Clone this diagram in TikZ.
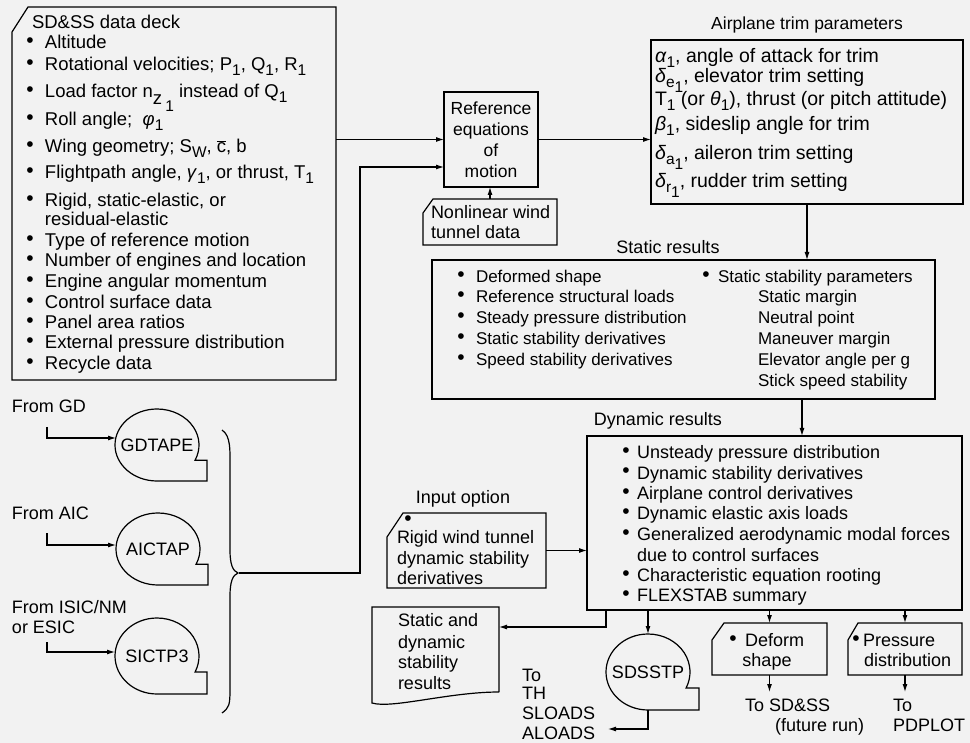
\documentclass[tikz,border=0pt]{standalone}
\usepackage{fontspec}
\setmainfont{Liberation Sans}
\usetikzlibrary{calc,arrows.meta}
\newcommand{\fs}{\fontsize{18}{20}\selectfont}
\newcommand{\fsD}{\fontsize{18.5}{20}\selectfont}
\newcommand{\fsT}{\fontsize{19.5}{21}\selectfont}
\newcommand{\fsS}{\fontsize{17}{20}\selectfont}
\newcommand{\sbn}[1]{\raisebox{-5pt}{\fontsize{15.5}{15.5}\selectfont #1}}
\newcommand{\sbb}[1]{\raisebox{-10pt}{\fontsize{15.5}{15.5}\selectfont #1}}
\newcommand{\gk}[1]{\textit{#1}}
\newcommand{\bitem}[5]{\node[bul] (#1b) at (#2,#4) {•}; \node[tl] (#1) at (#3,#4) {#5};}
\tikzset{
  every node/.style={inner sep=0pt, outer sep=0pt, font=\fs, text=black},
  tl/.style={anchor=base west},
  tc/.style={anchor=base},
  bul/.style={anchor=base, font=\fontsize{21}{21}\selectfont, yshift=1pt},
  frame/.style={draw=black, line width=1.2pt, line join=miter},
  conn/.style={draw=black, line width=1.1pt, -{Latex[length=8pt,width=5pt]}},
  plainline/.style={draw=black, line width=1.2pt},
}
\begin{document}
\begin{tikzpicture}[x=1pt,y=-1pt]
\useasboundingbox (0,0) rectangle (970,743);
\fill[black!5] (0,0) rectangle (970,743);

% ---------------- SD&SS data deck
\node[minimum width=324pt, minimum height=373pt] (deck) at (174,193.5) {};
\draw[frame] ($(deck.north west)+(0,25)$) -- ($(deck.north west)+(16,0)$) -- (deck.north east) -- (deck.south east) -- (deck.south west) -- cycle;
\begin{scope}[every node/.append style={font=\fsD}]
\node[tl] (d0) at (32,29) {SD\&SS data deck};
\bitem{d1}{30}{45}{49}{Altitude}
\bitem{d2}{30}{45}{71}{Rotational velocities; P\sbn{1}, Q\sbn{1}, R\sbn{1}}
\bitem{d3}{30}{45}{98}{Load factor n\raisebox{-7pt}{z}\,\raisebox{-14pt}{\fontsize{15.5}{15.5}\selectfont 1} instead of Q\sbn{1}}
\bitem{d4}{30}{45}{126}{Roll angle;\ \ \gk{φ}\sbn{1}}
\bitem{d5}{30}{45}{153}{Wing geometry; S\sbn{W}, $\overline{\mbox{c}}$, b}
\bitem{d6}{30}{45}{179}{Flightpath angle, \gk{γ}\sbn{1}, or thrust, T\sbn{1}}
\bitem{d7}{30}{45}{207}{Rigid, static-elastic, or}
\node[tl] (d7a) at (45,226) {residual-elastic};
\bitem{d8}{30}{45}{247}{Type of reference motion}
\bitem{d9}{30}{45}{267}{Number of engines and location}
\bitem{d10}{30}{45}{288}{Engine angular momentum}
\bitem{d11}{30}{45}{309}{Control surface data}
\bitem{d12}{30}{45}{329}{Panel area ratios}
\bitem{d13}{30}{45}{349}{External pressure distribution}
\bitem{d14}{30}{45}{370}{Recycle data}
\end{scope}

% ---------------- Reference equations
\node[frame, minimum width=94pt, minimum height=95pt, align=center, font=\fontsize{17.5}{21}\selectfont] (ref) at (491,139.5) {Reference\\equations\\of\\motion};

% ---------------- Nonlinear wind tunnel data
\node[minimum width=134pt, minimum height=46pt] (nl) at (490,222) {};
\draw[frame] ($(nl.north west)+(0,14)$) -- ($(nl.north west)+(10,0)$) -- (nl.north east) -- (nl.south east) -- (nl.south west) -- cycle;
\node[tl] (nl1) at (431,219) {Nonlinear wind};
\node[tl] (nl2) at (431,239) {tunnel data};

% ---------------- Airplane trim parameters
\node[frame, minimum width=312pt, minimum height=164pt] (trim) at (807,122) {};
\node[tc, font=\fontsize{17.5}{20}\selectfont] (trimt) at (807,30) {Airplane trim parameters};
\begin{scope}[every node/.append style={font=\fsT}]
\node[tl] (t1) at (655,63) {\gk{α}\sbn{1}, angle of attack for trim};
\node[tl] (t2) at (655,83) {\gk{δ}\sbn{e}\sbb{1}, elevator trim setting};
\node[tl] (t3) at (655,106) {T\sbn{1} (or \gk{θ}\sbn{1}), thrust (or pitch attitude)};
\node[tl] (t4) at (655,131) {\gk{β}\sbn{1}, sideslip angle for trim};
\node[tl] (t5) at (655,160) {\gk{δ}\sbn{a}\sbb{1}, aileron trim setting};
\node[tl] (t6) at (655,188) {\gk{δ}\sbn{r}\sbb{1}, rudder trim setting};
\end{scope}

% ---------------- Static results
\node[frame, minimum width=503pt, minimum height=139pt] (stat) at (683.5,329.5) {};
\node[tc] (statt) at (668,254) {Static results};
\begin{scope}[every node/.append style={font=\fsS}]
\bitem{s1}{461}{476}{283}{Deformed shape}
\bitem{s2}{461}{476}{303}{Reference structural loads}
\bitem{s3}{461}{476}{324}{Steady pressure distribution}
\bitem{s4}{461}{476}{345}{Static stability derivatives}
\bitem{s5}{461}{476}{366}{Speed stability derivatives}
\bitem{s6}{706}{718}{283}{Static stability parameters}
\node[tl] (s7) at (758,303) {Static margin};
\node[tl] (s8) at (758,324) {Neutral point};
\node[tl] (s9) at (758,345) {Maneuver margin};
\node[tl] (s10) at (758,366) {Elevator angle per g};
\node[tl] (s11) at (758,387) {Stick speed stability};
\end{scope}

% ---------------- Dynamic results
\node[frame, minimum width=375pt, minimum height=174pt] (dyn) at (774.5,523) {};
\node[tc] (dynt) at (658,425) {Dynamic results};
\bitem{y1}{626}{637}{458}{Unsteady pressure distribution}
\bitem{y2}{626}{637}{479}{Dynamic stability derivatives}
\bitem{y3}{626}{637}{499}{Airplane control derivatives}
\bitem{y4}{626}{637}{519}{Dynamic elastic axis loads}
\bitem{y5}{626}{637}{540}{Generalized aerodynamic modal forces}
\node[tl] (y5a) at (637,561) {due to control surfaces};
\bitem{y6}{626}{637}{581}{Characteristic equation rooting}
\bitem{y7}{626}{637}{601}{FLEXSTAB summary}

% ---------------- Input option
\node[tc] (inopt) at (463,503) {Input option};
\node[minimum width=159pt, minimum height=75pt] (rigid) at (466.5,550.5) {};
\draw[frame] ($(rigid.north west)+(0,24)$) -- ($(rigid.north west)+(16,0)$) -- (rigid.north east) -- (rigid.south east) -- (rigid.south west) -- cycle;
\node[bul] (rb) at (408,526) {•};
\node[tl] (r1) at (397,543) {Rigid wind tunnel};
\node[tl] (r2) at (397,564) {dynamic stability};
\node[tl] (r3) at (397,584) {derivatives};

% ---------------- Static and dynamic stability results (document)
\node[minimum width=127pt, minimum height=85pt] (doc) at (435.5,649.5) {};
\draw[frame] (doc.south east) -- (doc.north east) -- (doc.north west) -- ($(doc.south west)+(0,11)$) .. controls +(20,6) and +(-50,0) .. (doc.south east);
\node[tl] (dc1) at (398,626) {Static and};
\node[tl] (dc2) at (398,648) {dynamic};
\node[tl] (dc3) at (398,668) {stability};
\node[tl] (dc4) at (398,689) {results};

% ---------------- Tapes
\node[minimum width=84pt, minimum height=72pt] (gdt) at (157,445) {GDTAPE};
\draw[frame] (gdt.south) arc[start angle=90, end angle=385, x radius=42, y radius=36] -- ++(12,0) |- (gdt.south);
\node[minimum width=84pt, minimum height=72pt] (aict) at (158,549) {AICTAP};
\draw[frame] (aict.south) arc[start angle=90, end angle=385, x radius=42, y radius=36] -- ++(12,0) |- (aict.south);
\node[minimum width=84pt, minimum height=76pt] (sict) at (157,656) {SICTP3};
\draw[frame] (sict.south) arc[start angle=90, end angle=385, x radius=42, y radius=38] -- ++(12,0) |- (sict.south);
\node[minimum width=84pt, minimum height=76pt] (sds) at (648,672) {SDSSTP};
\draw[frame] (sds.south) arc[start angle=90, end angle=385, x radius=42, y radius=38] -- ++(13,0) |- (sds.south);

\node[tl] (fgd) at (12,413) {From GD};
\node[tl] (faic) at (12,519) {From AIC};
\node[tl] (fsic) at (12,613) {From ISIC/NM};
\node[tl] (fsic2) at (12,633) {or ESIC};

\coordinate (g1) at (47,427);
\coordinate (g2) at (47,533);
\coordinate (g3) at (47,642);
\draw[conn] (g1) |- ($(gdt.west)+(1,-7)$);
\draw[conn] (g2) |- ($(aict.west)+(0,-4)$);
\draw[conn] (g3) |- ($(sict.west)+(0,-4)$);

% ---------------- Brace
\coordinate (bt) at (239,573);
\draw[plainline] (222,430) .. controls (231,436) and (230,450) .. (230,470) -- (230,550) .. controls (230,565) and (233,571) .. (238,573) .. controls (233,575) and (230,581) .. (230,596) -- (230,690) .. controls (230,705) and (229,708) .. (222,713);

% ---------------- Output labels
\node[tl] (th1) at (522,681) {To};
\node[tl] (th2) at (522,699) {TH};
\node[tl] (th3) at (522,719) {SLOADS};
\node[tl] (th4) at (522,739) {ALOADS};

\node[minimum width=115pt, minimum height=52pt] (def) at (769.5,649) {};
\draw[frame] ($(def.north west)+(0,17)$) -- ($(def.north west)+(12,0)$) -- (def.north east) -- (def.south east) -- (def.south west) -- cycle;
\node[bul] (defb) at (733,646) {•};
\node[tl] (def1) at (745,646) {Deform};
\node[tc] (def2) at (767,666) {shape};

\node[minimum width=114pt, minimum height=52pt] (prs) at (905,649) {};
\draw[frame] ($(prs.north west)+(0,17)$) -- ($(prs.north west)+(10,0)$) -- (prs.north east) -- (prs.south east) -- (prs.south west) -- cycle;
\node[bul] (prsb) at (856,646) {•};
\node[tl] (prs1) at (863,646) {Pressure};
\node[tl] (prs2) at (864,666) {distribution};

\node[tl] (o1t) at (745,711) {To SD\&SS};
\node[tl] (o1u) at (775,731) {(future run)};
\node[tl] (o2t) at (893,711) {To};
\node[tl] (o2u) at (893,731) {PDPLOT};

% ---------------- Connectors
\coordinate (j1) at (360,167);
\coordinate (sx) at (802,0);
\coordinate (dx1) at (606,627);
\coordinate (al) at (608,729);
\coordinate (o1) at (0,692);

\draw[conn] (deck.east |- ref.west) -- (ref.west);
\draw[conn] (bt) -| (j1) -- (j1 -| ref.west);
\draw[conn] (ref.east) -- (ref.east -| trim.west);
\draw[conn] (nl.north) -- (nl.north |- ref.south);
\draw[conn] (trim.south) -- (trim.south |- stat.north);
\draw[conn] (stat.south -| sx) -- (dyn.north -| sx);
\draw[conn] (rigid.east) -- (rigid.east -| dyn.west);
\draw[conn] (dyn.south -| dx1) |- (doc.east |- dx1);
\draw[conn] (dyn.south -| sds.north) -- (sds.north);
\draw[conn] (sds.south) |- (al);
\draw[conn] (dyn.south -| def.north) -- (def.north);
\draw[conn] (def.south) -- (def.south |- o1);
\draw[conn] (dyn.south -| prs.north) -- (prs.north);
\draw[conn] (prs.south) -- (prs.south |- o1);
\end{tikzpicture}
\end{document}
